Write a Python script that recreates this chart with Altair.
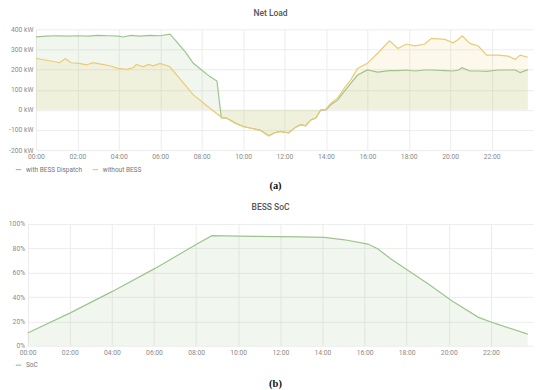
import altair as alt
import pandas as pd

# ---------------- data ----------------
SER_W = "with BESS Dispatch"
SER_WO = "without BESS"

hours_with = [0.0, 0.5, 1.0, 1.5, 2.0, 2.5, 3.0, 3.5, 4.0, 4.2, 4.6, 5.0, 5.5, 6.0, 6.47,
              6.8, 7.2, 7.6, 8.0, 8.4, 8.74, 8.95, 9.2, 9.63, 10.0, 10.5, 10.84, 11.24,
              11.5, 11.8, 12.2, 12.54, 12.78, 13.02, 13.27, 13.51, 13.75, 14.0, 14.24,
              14.56, 14.88, 15.2, 15.53, 16.0, 16.5, 17.07, 17.48, 17.88, 18.3, 18.77,
              19.1, 19.74, 20.15, 20.4, 20.58, 20.95, 21.36, 21.76, 22.33, 22.8, 23.14,
              23.38, 23.75]
load_with = [362, 366, 368, 366, 368, 366, 370, 368, 366, 362, 370, 366, 370, 368, 376,
             338, 289, 231, 198, 165, 143, -40, -41, -66, -83, -94, -102, -129,
             -115, -107, -115, -86, -74, -79, -50, -41, -2, 0, 25,
             48, 90, 132, 173, 198, 187, 195, 195, 198, 193, 198,
             198, 195, 193, 198, 209, 193, 193, 191, 198, 198, 198,
             185, 200]

hours_without = [0.0, 0.3, 0.65, 1.13, 1.42, 1.7, 2.1, 2.43, 2.75, 3.07, 3.56, 3.96, 4.37,
                 4.7, 4.85, 5.18, 5.42, 5.66, 6.0, 6.47, 6.8, 7.2, 7.6, 8.0, 8.4, 8.95,
                 9.2, 9.63, 10.0, 10.5, 10.84, 11.24, 11.5, 11.8, 12.2, 12.54, 12.78,
                 13.02, 13.27, 13.51, 13.75, 14.0, 14.24, 14.56, 14.88, 15.2, 15.53, 16.0,
                 16.5, 17.07, 17.48, 17.88, 18.3, 18.77, 19.1, 19.74, 20.15, 20.4, 20.58,
                 20.95, 21.36, 21.76, 22.33, 22.8, 23.14, 23.38, 23.75]
load_without = [256, 250, 244, 234, 254, 234, 231, 223, 234, 228, 219, 206, 201,
                209, 226, 214, 226, 219, 231, 214, 173, 124, 74, 41, 8, -36,
                -41, -66, -83, -94, -102, -129, -115, -107, -115, -86, -74,
                -79, -50, -41, 0, 3, 33, 58, 107, 149, 206, 231,
                281, 343, 305, 327, 318, 327, 355, 350, 333, 351, 368,
                330, 317, 272, 272, 267, 251, 272, 261]

soc_hours = [0.0, 2.0, 4.0, 6.05, 8.04, 8.75, 10.0, 11.86, 13.0, 14.09, 15.05, 16.16,
             16.64, 17.27, 18.23, 19.03, 20.14, 21.41, 22.2, 23.75]
soc_values = [10.5, 26.8, 44.4, 63.5, 83.5, 90.4, 90.0, 89.6, 89.4, 89.0, 87.0, 83.5,
              79.4, 71.0, 60.0, 50.6, 37.0, 23.3, 18.3, 9.5]

x_ticks = [0, 2, 4, 6, 8, 10, 12, 14, 16, 18, 20, 22]
load_ticks = [-200, -100, 0, 100, 200, 300, 400]
soc_ticks = [0, 20, 40, 60, 80, 100]

GREEN = "#9EC48E"
YELLOW = "#EACB74"
GRID = "#ececec"
PLOT_W = 498
SHIFT = 8.3   # the SoC panel starts a little further left than the Net Load panel

df_with = pd.DataFrame({"h": hours_with, "v": load_with, "s": SER_W})
df_without = pd.DataFrame({"h": hours_without, "v": load_without, "s": SER_WO})
df_load = pd.concat([df_with, df_without], ignore_index=True)
df_soc = pd.DataFrame({"h": soc_hours, "v": soc_values, "s": "SoC"})

time_label = "(datum.value < 10 ? '0' : '') + datum.value + ':00'"


def x_enc(rng, pad):
    return alt.X("h:Q", scale=alt.Scale(domain=[0, 24], nice=False, range=rng),
                 axis=alt.Axis(values=x_ticks, labelExpr=time_label, title=None,
                               domain=False, ticks=False, labelPadding=pad, gridColor=GRID,
                               labelFlush=False))


def legend(x, y):
    return alt.Legend(title=None, orient="none", legendX=x, legendY=y,
                      direction="horizontal", symbolType="stroke", symbolSize=30,
                      symbolStrokeWidth=1.2, labelFontSize=6.5, labelColor="#777",
                      labelFont="Roboto", columnPadding=7, labelOffset=4)


# ---------------- top panel: Net Load ----------------
xr_top = [0, PLOT_W]
y_load = alt.Y("v:Q", stack=None, scale=alt.Scale(domain=[-200, 400], nice=False),
               axis=alt.Axis(values=load_ticks, labelExpr="datum.value + ' kW'", title=None,
                             domain=False, ticks=False, labelPadding=3, gridColor=GRID))

area_w = alt.Chart(df_with).mark_area(color=GREEN, fillOpacity=0.14).encode(
    x=x_enc(xr_top, 3), y=y_load)
area_wo = alt.Chart(df_without).mark_area(color=YELLOW, fillOpacity=0.14).encode(
    x=x_enc(xr_top, 3), y=y_load)
lines = alt.Chart(df_load).mark_line(strokeWidth=1.2).encode(
    x=x_enc(xr_top, 3), y=y_load, detail="s:N",
    color=alt.Color("s:N", scale=alt.Scale(domain=[SER_W, SER_WO], range=[GREEN, YELLOW]),
                    legend=legend(-21, 137)))
cap_a = alt.Chart(pd.DataFrame({"t": ["(a)"]})).mark_text(
    font="Liberation Serif", fontWeight="bold", fontSize=10.5, color="#111").encode(
    text="t:N", x=alt.value(240), y=alt.value(157))

top = alt.layer(area_w, area_wo, lines, cap_a).properties(
    width=PLOT_W, height=121,
    title=alt.TitleParams("Net Load", fontSize=8.5, font="Roboto", fontWeight=500,
                          color="#555", offset=9, anchor="middle", dx=-14))

# ---------------- bottom panel: BESS SoC ----------------
xr_bot = [-SHIFT, PLOT_W]
y_soc = alt.Y("v:Q", stack=None, scale=alt.Scale(domain=[0, 100], nice=False),
              axis=alt.Axis(values=soc_ticks, labelExpr="datum.value + '%'", title=None,
                            domain=False, ticks=False, labelPadding=3, gridColor=GRID,
                            offset=SHIFT))
area_soc = alt.Chart(df_soc).mark_area(color=GREEN, fillOpacity=0.14).encode(
    x=x_enc(xr_bot, 4), y=y_soc)
line_soc = alt.Chart(df_soc).mark_line(strokeWidth=1.2).encode(
    x=x_enc(xr_bot, 4), y=y_soc,
    color=alt.Color("s:N", scale=alt.Scale(domain=["SoC"], range=[GREEN]),
                    legend=legend(-21, 138)))
cap_b = alt.Chart(pd.DataFrame({"t": ["(b)"]})).mark_text(
    font="Liberation Serif", fontWeight="bold", fontSize=10.5, color="#111").encode(
    text="t:N", x=alt.value(240), y=alt.value(160))

bottom = alt.layer(area_soc, line_soc, cap_b).properties(
    width=PLOT_W, height=122,
    title=alt.TitleParams("BESS SoC", fontSize=8.5, font="Roboto", fontWeight=500,
                          color="#555", offset=9, anchor="middle", dx=-14))

chart = alt.concat(top, bottom, columns=1, spacing=11).resolve_scale(
    color="independent"
).properties(padding={"left": 0, "top": 0, "right": 0, "bottom": 0}).configure_view(
    stroke=None).configure_axis(labelFont="Roboto", labelFontSize=6.8, labelColor="#8a8a8a")

chart.save("out.html", embed_options={"renderer": "svg", "actions": False})
